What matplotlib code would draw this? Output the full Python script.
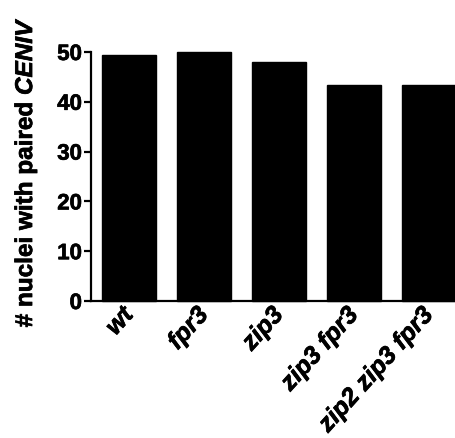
import matplotlib
matplotlib.use("Agg")
import matplotlib.pyplot as plt
import matplotlib.patheffects as pe

# Paired CENIV counts per strain
strains = ["wt", "fpr3", "zip3", "zip3 fpr3", "zip2 zip3 fpr3"]
paired_nuclei = [49.4, 50.0, 48.0, 43.3, 43.3]
y_ticks = [0, 10, 20, 30, 40, 50]

plt.rcParams["font.family"] = ["Liberation Sans", "DejaVu Sans"]
plt.rcParams["mathtext.fontset"] = "custom"
plt.rcParams["mathtext.bfit"] = "Liberation Sans:italic:bold"
plt.rcParams["mathtext.bf"] = "Liberation Sans:bold"
plt.rcParams["mathtext.rm"] = "Liberation Sans:bold"

heavy = [pe.withStroke(linewidth=0.5, foreground="black")]

fig = plt.figure(figsize=(4.56, 4.38), dpi=100)
W, H = 456, 438
left, right, bottom, top = 91, 456, 301, 52
ax = fig.add_axes([left / W, 1 - bottom / H, (right - left) / W, (bottom - top) / H])

x = list(range(len(strains)))
ax.bar(x, paired_nuclei, width=0.72, color="black", edgecolor="black", clip_on=False)

ax.set_xlim(-0.507, 4.36)
ax.set_ylim(0, 50)
ax.set_yticks(y_ticks)
ax.set_yticklabels([str(t) for t in y_ticks], fontsize=16, fontweight="bold")
ax.set_xticks(x)
ax.set_xticklabels(strains, rotation=48, ha="right", va="center", rotation_mode="anchor",
                   fontsize=18, fontweight="bold", fontstyle="italic")

for side in ("top", "right"):
    ax.spines[side].set_visible(False)
for side in ("left", "bottom"):
    ax.spines[side].set_linewidth(1.6)

ax.tick_params(axis="y", direction="out", length=5, width=1.6, pad=1.5)
ax.tick_params(axis="x", length=0, pad=7)

ax.set_ylabel(r"# nuclei with paired $\mathbfit{CENIV}$", fontsize=17.5,
              fontweight="bold")
ax.yaxis.set_label_coords(-0.142, 0.516)

for t in ax.get_xticklabels() + ax.get_yticklabels() + [ax.yaxis.label]:
    t.set_path_effects(heavy)

fig.savefig("out.png", dpi=100)
